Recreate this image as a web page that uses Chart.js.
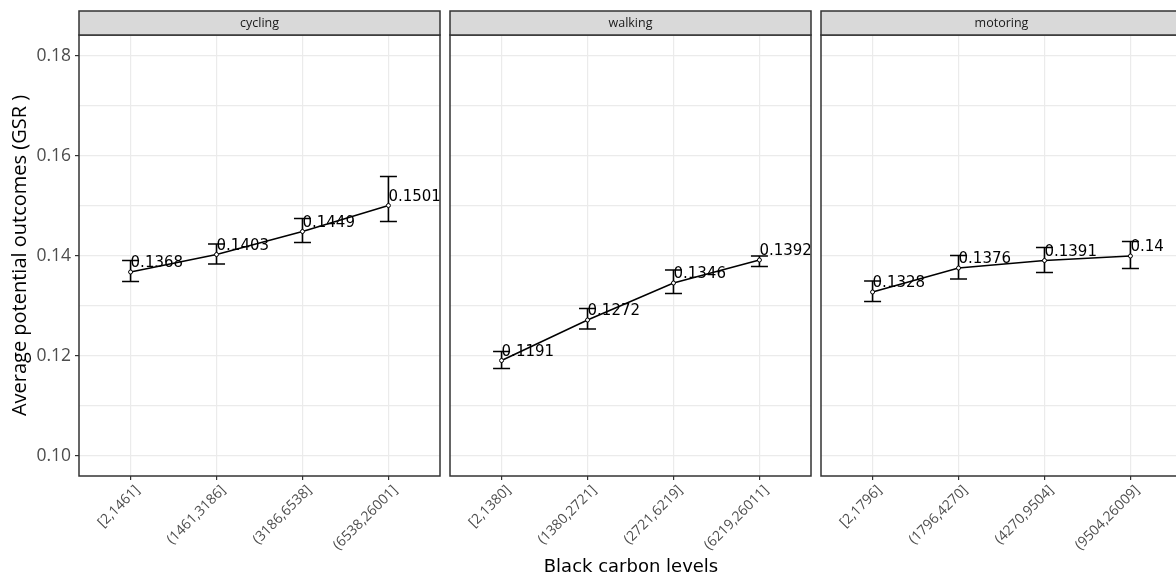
<!DOCTYPE html>
<html>
<head>
<meta charset="utf-8">
<script src="https://cdn.jsdelivr.net/npm/chart.js@4.4.0/dist/chart.umd.min.js"></script>
<style>
    html, body { margin: 0; padding: 0; background: #fff; overflow: hidden; width: 1176px; height: 579px; }
    canvas { position: absolute; top: 0; }
    #xtitle { position: absolute; left: 0; width: 1262px; top: 555px; text-align: center;
              font: 18px "DejaVu Sans", sans-serif; color: #000; }
</style>
</head>
<body>
<canvas id="c1" width="445" height="579" style="left:0"></canvas>
<canvas id="c2" width="371" height="579" style="left:445px"></canvas>
<canvas id="c3" width="371" height="579" style="left:816px"></canvas>
<div id="xtitle">Black carbon levels</div>
<script>
// Datos por panel
const panelNames = ['cycling', 'walking', 'motoring'];

const cyclingLevels = ['[2,1461]', '(1461,3186]', '(3186,6538]', '(6538,26001]'];
const walkingLevels = ['[2,1380]', '(1380,2721]', '(2721,6219]', '(6219,26011]'];
const motoringLevels = ['[2,1796]', '(1796,4270]', '(4270,9504]', '(9504,26009]'];

const cyclingMean = [0.1368, 0.1403, 0.1449, 0.1501];
const cyclingLower = [0.1349, 0.1384, 0.1427, 0.1469];
const cyclingUpper = [0.1391, 0.1424, 0.1475, 0.1559];

const walkingMean = [0.1191, 0.1272, 0.1346, 0.1392];
const walkingLower = [0.1175, 0.1254, 0.1325, 0.1379];
const walkingUpper = [0.1209, 0.1295, 0.1372, 0.1400];

const motoringMean = [0.1328, 0.1376, 0.1391, 0.14];
const motoringLower = [0.1309, 0.1354, 0.1367, 0.1375];
const motoringUpper = [0.1350, 0.1401, 0.1417, 0.1429];

const yMajorTicks = [0.10, 0.12, 0.14, 0.16, 0.18];
const yMinorTicks = [0.11, 0.13, 0.15, 0.17];
const yLabel = 'Average potential outcomes (GSR )';

// Barras de error, etiquetas, borde y franja del panel
const panelPlugin = {
    id: 'panelDecor',
    beforeDatasetsDraw(chart, args, opts) {
        const ctx = chart.ctx;
        const xs = chart.scales.x, ys = chart.scales.y;
        ctx.save();
        ctx.strokeStyle = '#000';
        ctx.lineWidth = 1.6;
        opts.lower.forEach((lo, i) => {
            const x = xs.getPixelForValue(i + 1);
            const y1 = ys.getPixelForValue(lo);
            const y2 = ys.getPixelForValue(opts.upper[i]);
            ctx.beginPath();
            ctx.moveTo(x, y1); ctx.lineTo(x, y2);
            ctx.moveTo(x - 8.5, y1); ctx.lineTo(x + 8.5, y1);
            ctx.moveTo(x - 8.5, y2); ctx.lineTo(x + 8.5, y2);
            ctx.stroke();
        });
        ctx.restore();
    },
    afterDatasetsDraw(chart, args, opts) {
        const ctx = chart.ctx;
        const xs = chart.scales.x, ys = chart.scales.y;
        ctx.save();
        ctx.fillStyle = '#000';
        ctx.font = '15px "DejaVu Sans"';
        ctx.textAlign = 'left';
        ctx.textBaseline = 'alphabetic';
        opts.mean.forEach((v, i) => {
            ctx.fillText(String(v), xs.getPixelForValue(i + 1), ys.getPixelForValue(v) - 5);
        });
        ctx.restore();
    },
    afterDraw(chart, args, opts) {
        const ctx = chart.ctx;
        const a = chart.chartArea;
        ctx.save();
        ctx.strokeStyle = '#333333';
        ctx.lineWidth = 1.5;
        ctx.strokeRect(a.left, a.top, a.right - a.left, a.bottom - a.top);
        // franja
        ctx.fillStyle = '#d9d9d9';
        ctx.fillRect(a.left, 11, a.right - a.left, a.top - 11);
        ctx.strokeRect(a.left, 11, a.right - a.left, a.top - 11);
        ctx.fillStyle = '#1a1a1a';
        ctx.font = '12.5px "Open Sans"';
        ctx.textAlign = 'center';
        ctx.textBaseline = 'middle';
        ctx.fillText(opts.title, (a.left + a.right) / 2, (11 + a.top) / 2);
        ctx.restore();
    }
};

function crearPanel(id, nombre, niveles, media, inferior, superior, conEjeY, padLeft) {
    const puntos = media.map((v, i) => ({ x: i + 1, y: v }));
    return new Chart(document.getElementById(id), {
        type: 'line',
        data: {
            datasets: [{
                data: puntos,
                borderColor: '#000',
                borderWidth: 1.5,
                pointRadius: 2,
                pointBackgroundColor: '#fff',
                pointBorderColor: '#000',
                pointBorderWidth: 1,
                tension: 0
            }]
        },
        options: {
            responsive: false,
            animation: false,
            layout: { padding: { top: 35, right: 4, left: padLeft, bottom: 0 } },
            plugins: {
                legend: { display: false },
                tooltip: { enabled: false },
                panelDecor: { title: nombre, mean: media, lower: inferior, upper: superior }
            },
            scales: {
                x: {
                    type: 'linear',
                    min: 0.4,
                    max: 4.6,
                    afterBuildTicks: s => { s.ticks = [1, 2, 3, 4].map(v => ({ value: v })); },
                    afterFit: s => { s.height = 103; },
                    ticks: {
                        autoSkip: false,
                        minRotation: 45,
                        maxRotation: 45,
                        padding: 2,
                        labelOffset: 7,
                        color: '#4d4d4d',
                        font: { family: 'Open Sans', size: 14 },
                        callback: v => niveles[v - 1]
                    },
                    grid: { color: '#ebebeb', lineWidth: 1.2, tickColor: '#333', tickLength: 4, tickWidth: 1.2 },
                    border: { display: false }
                },
                y: {
                    min: 0.096,
                    max: 0.1842,
                    afterBuildTicks: s => {
                        s.ticks = yMajorTicks.concat(yMinorTicks).sort().map(v => ({ value: v }));
                    },
                    afterFit: s => { s.width = conEjeY ? 79 : 0; },
                    title: {
                        display: conEjeY,
                        text: yLabel,
                        color: '#000',
                        font: { family: 'Open Sans', size: 20 },
                        padding: { top: 8, bottom: 0 }
                    },
                    ticks: {
                        display: conEjeY,
                        padding: 4,
                        color: '#4d4d4d',
                        font: { family: 'Open Sans', size: 17.5 },
                        callback: v => yMajorTicks.some(t => Math.abs(t - v) < 1e-9) ? v.toFixed(2) : ''
                    },
                    grid: {
                        color: '#ebebeb',
                        lineWidth: 1.2,
                        drawTicks: conEjeY,
                        tickLength: 4,
                        tickWidth: 1.2,
                        tickColor: c => yMajorTicks.some(t => Math.abs(t - c.tick.value) < 1e-9) ? '#333' : 'rgba(0,0,0,0)'
                    },
                    border: { display: false }
                }
            }
        },
        plugins: [panelPlugin]
    });
}

crearPanel('c1', panelNames[0], cyclingLevels, cyclingMean, cyclingLower, cyclingUpper, true, 0);
crearPanel('c2', panelNames[1], walkingLevels, walkingMean, walkingLower, walkingUpper, false, 5);
crearPanel('c3', panelNames[2], motoringLevels, motoringMean, motoringLower, motoringUpper, false, 5);
</script>
</body>
</html>
